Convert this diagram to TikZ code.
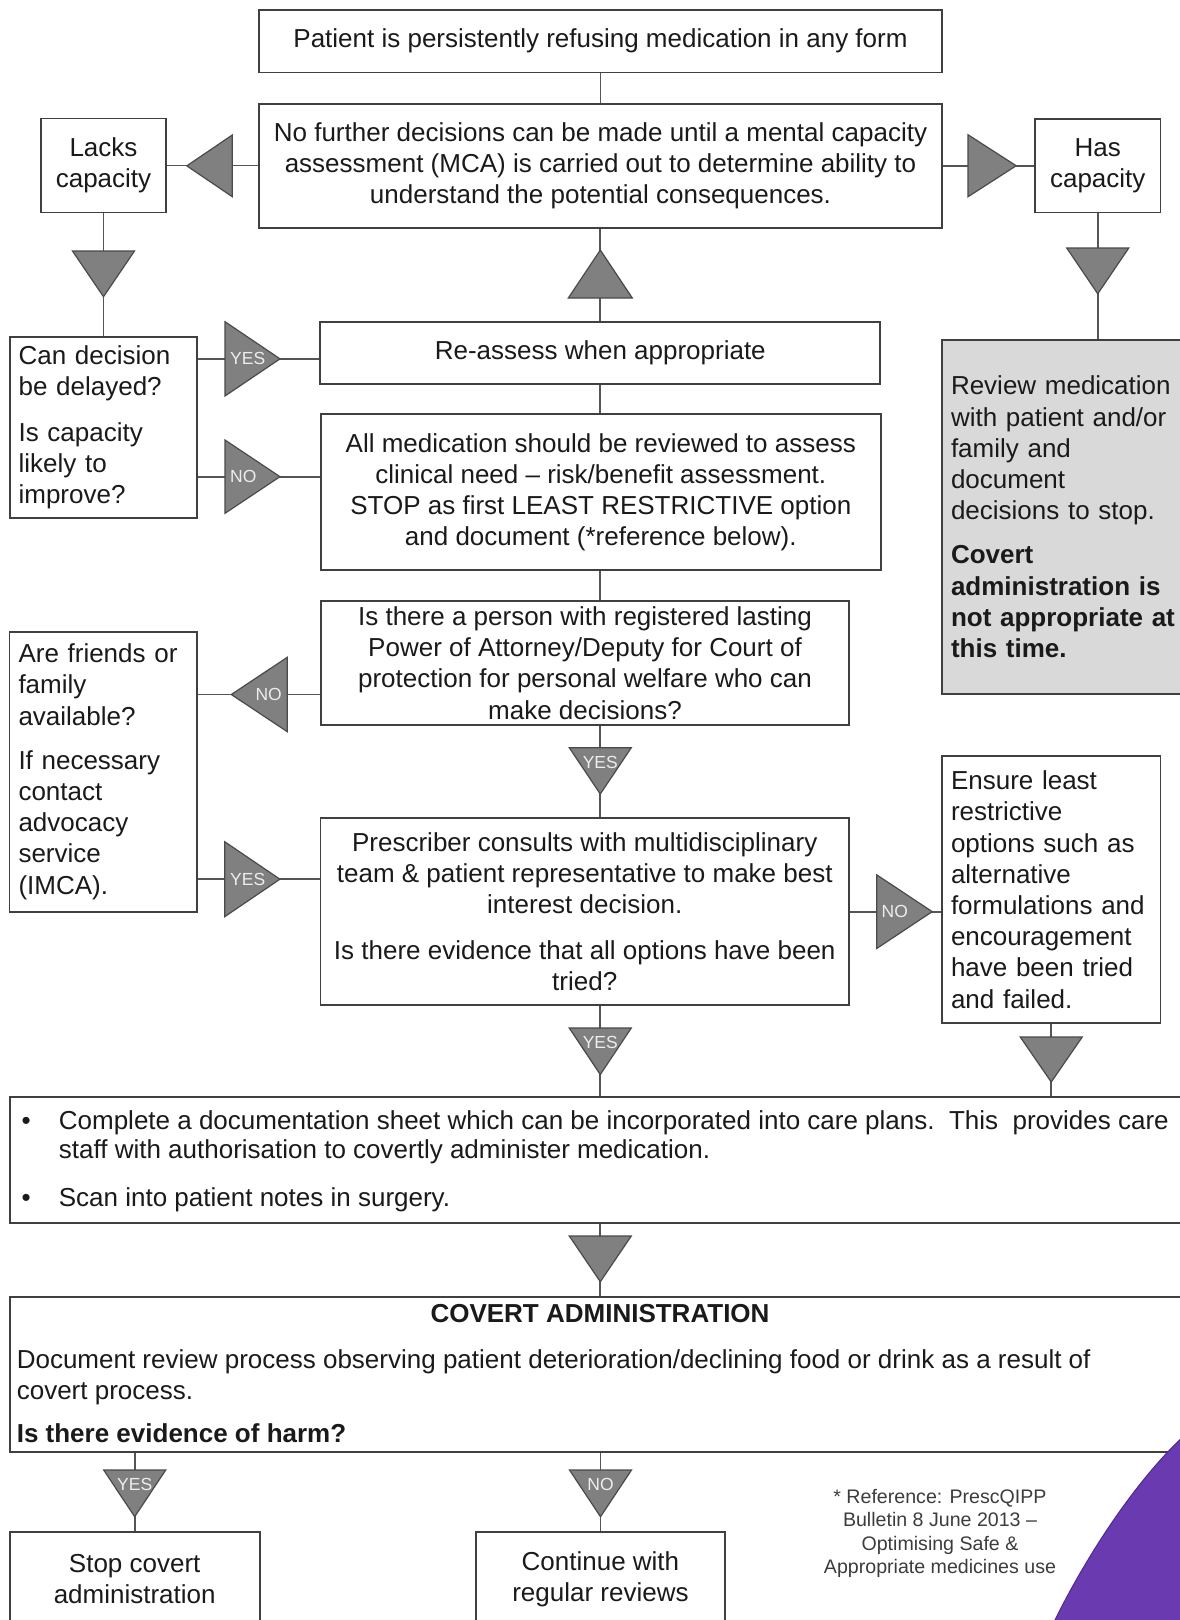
\documentclass[tikz,border=0pt]{standalone}
\usepackage{fontspec}
\setmainfont{Liberation Sans}
\definecolor{boxc}{HTML}{404040}
\definecolor{linec}{HTML}{555555}
\definecolor{tric}{HTML}{808080}
\definecolor{trid}{HTML}{4A4A4A}
\definecolor{greyfill}{HTML}{D9D9D9}
\definecolor{txtc}{HTML}{1A1A1A}
\definecolor{lblc}{HTML}{EDEDED}
\definecolor{purp}{HTML}{6A3AB0}
\definecolor{purpd}{HTML}{4E2A8E}
\newcommand\fsmain{\fontsize{26}{31.2}\selectfont}
\newcommand\fslbl{\fontsize{17.5}{19}\selectfont}
\newcommand\fsref{\fontsize{19.6}{23.6}\selectfont}
\begin{document}
\begin{tikzpicture}[x=1pt,y=-1pt,
  box/.style={draw=boxc, line width=1.8pt, fill=white, inner sep=0pt, font=\fsmain, text=txtc},
  cbox/.style={box, align=center},
  lbox/.style={box, align=left, inner xsep=9pt},
  conn/.style={draw=linec, line width=1.8pt},
  tri/.style={fill=tric, draw=trid, line width=1.2pt, line join=miter},
  lbl/.style={text=lblc, font=\fslbl, inner sep=0pt},
  txt/.style={inner sep=0pt, font=\fsmain, text=txtc, text height=18.7pt, text depth=0pt},
]
\useasboundingbox (0,0) rectangle (1180,1620);
\clip (0,0) rectangle (1180,1620);

% boxes
\node[cbox, minimum width=683pt, minimum height=62.5pt] (nTop) at (600.5,41.25) {Patient is persistently refusing medication in any form};
\node[cbox, minimum width=683pt, minimum height=124pt] (nMca) at (600.5,166) {No further decisions can be made until a mental capacity\\assessment (MCA) is carried out to determine ability to\\understand the potential consequences.};
\node[cbox, minimum width=125pt, minimum height=94pt] (nLacks) at (103.5,165.5) {Lacks\\capacity};
\node[cbox, minimum width=125.5pt, minimum height=93.5pt] (nHas) at (1097.75,165.75) {Has\\capacity};
\node[lbox, text width=169.4pt, minimum width=187.4pt, minimum height=181pt] (nCan) at (103.3,427.2) {Can decision\\be delayed?\\[15pt]Is capacity\\likely to\\improve?};
\node[cbox, minimum width=560pt, minimum height=62.3pt] (nRe) at (600.3,352.85) {Re-assess when appropriate};
\node[cbox, minimum width=559.6pt, minimum height=155.7pt] (nAll) at (600.8,492.15) {All medication should be reviewed to assess\\clinical need – risk/benefit assessment.\\STOP as first LEAST RESTRICTIVE option\\and document (*reference below).};
\node[lbox, fill=greyfill, text width=240pt, minimum width=258pt, minimum height=354pt] (nGrey) at (1071,517) {Review medication\\with patient and/or\\family and\\document\\decisions to stop.\\[13pt]\textbf{Covert}\\\textbf{administration is}\\\textbf{not appropriate at}\\\textbf{this time.}};
\node[cbox, minimum width=528pt, minimum height=124pt] (nPerson) at (585,663) {Is there a person with registered lasting\\Power of Attorney/Deputy for Court of\\protection for personal welfare who can\\make decisions?};
\node[lbox, text width=169.8pt, minimum width=187.8pt, minimum height=280pt] (nFriends) at (103.4,771.7) {Are friends or\\family\\available?\\[13pt]If necessary\\contact\\advocacy\\service\\(IMCA).};
\node[cbox, minimum width=528.5pt, minimum height=186.7pt] (nPres) at (584.75,911.65) {Prescriber consults with multidisciplinary\\team \& patient representative to make best\\interest decision.\\[15pt]Is there evidence that all options have been\\tried?};
\node[lbox, text width=200.5pt, minimum width=218.5pt, minimum height=267.3pt] (nEnsure) at (1051.25,889.65) {Ensure least\\restrictive\\options such as\\alternative\\formulations and\\encouragement\\have been tried\\and failed.};
\node[box, minimum width=1190pt, minimum height=126pt] (nDoc) at (604.8,1159.7) {};
\node[box, minimum width=1190pt, minimum height=155.3pt] (nCov) at (604.8,1374.35) {};
\node[cbox, minimum width=249.8pt, minimum height=93.4pt] (nStop) at (134.7,1579) {Stop covert\\administration};
\node[cbox, minimum width=248.3pt, minimum height=93.4pt] (nCont) at (600.45,1579) {Continue with\\regular reviews};

% documentation box text
\node[txt] (b1) at (26.3,1120.5) {•};
\node[txt, anchor=west] (d1) at (58.7,1120.5) {Complete a documentation sheet which can be incorporated into care plans.\ \ This\ \ provides care};
\node[txt, anchor=west] (d2) at (58.7,1149.5) {staff with authorisation to covertly administer medication.};
\node[txt] (b2) at (26.3,1197) {•};
\node[txt, anchor=west] (d3) at (58.7,1197) {Scan into patient notes in surgery.};

% covert box text
\node[txt, font=\fsmain\bfseries] (c0) at (600,1313.3) {COVERT ADMINISTRATION};
\node[txt, anchor=west] (c1) at (16.6,1359.3) {Document review process observing patient deterioration/declining food or drink as a result of};
\node[txt, anchor=west] (c2) at (16.6,1390) {covert process.};
\node[txt, anchor=west, font=\fsmain\bfseries] (c3) at (16.6,1433.3) {Is there evidence of harm?};

% reference
\node[inner sep=0pt, font=\fsref, text=txtc!85, align=center] (ref) at (940,1533.5) {* Reference: PrescQIPP\\Bulletin 8 June 2013 –\\Optimising Safe \&\\Appropriate medicines use};

% helper coordinates
\coordinate (colx) at (600.3,0);
\coordinate (k6) at (0,358.85);
\coordinate (k7) at (0,476.65);
\coordinate (k8) at (0,694.5);
\coordinate (k10) at (0,879.2);

% connectors
\draw[conn] (nTop.south) -- (nMca.north);
\draw[conn] (nLacks.east) -- (nLacks.east -| nMca.west);
\draw[conn] (nMca.east |- nHas.west) -- (nHas.west);
\draw[conn] (nLacks.south) -- (nLacks.south |- nCan.north);
\draw[conn] (nHas.south) -- (nHas.south |- nGrey.north);
\draw[conn] (nRe.north) -- (nRe.north |- nMca.south);
\draw[conn] (nRe.south) -- (nRe.south |- nAll.north);
\draw[conn] (nCan.east |- k6) -- (nRe.west |- k6);
\draw[conn] (nCan.east |- k7) -- (nAll.west |- k7);
\draw[conn] (colx |- nAll.south) -- (colx |- nPerson.north);
\draw[conn] (nPerson.west |- k8) -- (nFriends.east |- k8);
\draw[conn] (colx |- nPerson.south) -- (colx |- nPres.north);
\draw[conn] (nFriends.east |- k10) -- (nPres.west |- k10);
\draw[conn] (nPres.east) -- (nPres.east -| nEnsure.west);
\draw[conn] (colx |- nPres.south) -- (colx |- nDoc.north);
\draw[conn] (nEnsure.south) -- (nEnsure.south |- nDoc.north);
\draw[conn] (colx |- nDoc.south) -- (colx |- nCov.north);
\draw[conn] (nStop.north |- nCov.south) -- (nStop.north);
\draw[conn] (nCont.north |- nCov.south) -- (nCont.north);

% triangles
\filldraw[tri] (232.3,135) -- (232.3,196.7) -- (186.8,165.85) -- cycle;
\filldraw[tri] (968,134.75) -- (968,196.75) -- (1016.2,165.75) -- cycle;
\filldraw[tri] (72.5,251) -- (134.5,251) -- (103.5,296.7) -- cycle;
\filldraw[tri] (1066.75,248) -- (1128.75,248) -- (1097.75,293.8) -- cycle;
\filldraw[tri] (568.3,298) -- (632.3,298) -- (600.3,250) -- cycle;
\filldraw[tri] (225,321.7) -- (225,396) -- (280,358.85) -- cycle;
\filldraw[tri] (225,440) -- (225,513.3) -- (280,476.65) -- cycle;
\filldraw[tri] (287.3,657.3) -- (287.3,731.7) -- (231.3,694.5) -- cycle;
\filldraw[tri] (569.3,747.7) -- (631.3,747.7) -- (600.3,794) -- cycle;
\filldraw[tri] (224.7,841.7) -- (224.7,916.7) -- (279.9,879.2) -- cycle;
\filldraw[tri] (876.7,874.8) -- (876.7,948.5) -- (932.2,911.65) -- cycle;
\filldraw[tri] (569.3,1028) -- (631.3,1028) -- (600.3,1074.5) -- cycle;
\filldraw[tri] (1020.25,1037) -- (1082.25,1037) -- (1051.25,1082) -- cycle;
\filldraw[tri] (569.3,1236) -- (631.3,1236) -- (600.3,1281.7) -- cycle;
\filldraw[tri] (103.7,1470) -- (165.7,1470) -- (134.7,1516.7) -- cycle;
\filldraw[tri] (569.5,1470) -- (631.5,1470) -- (600.5,1516.7) -- cycle;

% triangle labels
\node[lbl, anchor=west] (y6) at (230,358.85) {YES};
\node[lbl, anchor=west] (n7) at (230,476.65) {NO};
\node[lbl, anchor=east] (n8) at (282,694.5) {NO};
\node[lbl] (y9) at (600.3,762.5) {YES};
\node[lbl, anchor=west] (y10) at (230,879.2) {YES};
\node[lbl, anchor=west] (n11) at (881.5,911.65) {NO};
\node[lbl] (y12) at (600.3,1042.8) {YES};
\node[lbl] (y15) at (134.7,1484.8) {YES};
\node[lbl] (n16) at (600.5,1484.8) {NO};

% purple corner shape
\filldraw[fill=purp, draw=purpd, line width=1pt] (1053,1624) .. controls (1085.5,1557) and (1136.5,1479) .. (1186,1434) -- (1186,1624) -- cycle;
\end{tikzpicture}
\end{document}
